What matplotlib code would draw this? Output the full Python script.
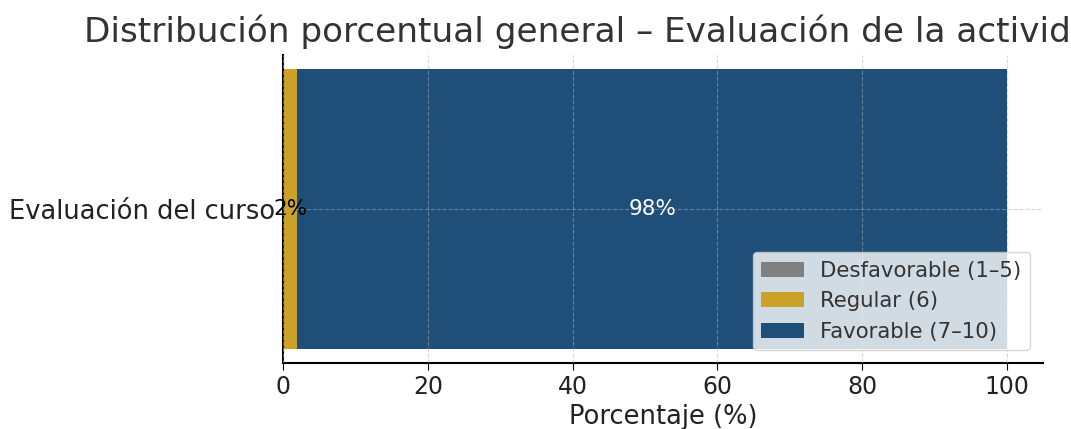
import matplotlib
matplotlib.use("Agg")
import matplotlib.pyplot as plt

categories = ["Evaluación del curso"]
series_names = ["Desfavorable (1–5)", "Regular (6)", "Favorable (7–10)"]
values = [[0], [2], [98]]
colors = ["#808080", "#C9A227", "#1F4E79"]
label_colors = ["black", "black", "white"]

fig = plt.figure(figsize=(10.71, 4.29), dpi=100)
ax = fig.add_axes([283/1071, 1-363/429, (1043-283)/1071, 308/429])

left = [0] * len(categories)
for name, vals, c, lc in zip(series_names, values, colors, label_colors):
    bars = ax.barh(categories, vals, left=left, color=c, label=name, height=0.8)
    for b, v, l in zip(bars, vals, left):
        if v > 0:
            ax.text(l + v / 2, b.get_y() + b.get_height() / 2, f"{v:.0f}%",
                    ha="center", va="center", color=lc, fontsize=15.5)
    left = [l + v for l, v in zip(left, vals)]

ax.set_xlim(0, 105)
fig.text(84/1071, 1-32/429, "Distribución porcentual general – Evaluación de la actividad",
         fontsize=24.65, color="#333333", ha="left", va="center")
ax.set_xlabel("Porcentaje (%)", fontsize=18.5, color="#222222", labelpad=4)
ax.tick_params(axis="x", labelsize=17, length=5, labelcolor="#222222")
ax.tick_params(axis="y", labelsize=18.5, length=0, pad=6, labelcolor="#222222")
ax.spines["top"].set_visible(False)
ax.spines["right"].set_visible(False)
ax.spines["left"].set_linewidth(1.5)
ax.spines["bottom"].set_linewidth(1.5)
ax.grid(True, linestyle="--", alpha=0.5, zorder=5)
ax.set_axisbelow(False)
ax.legend(loc="lower right", fontsize=15.3, borderaxespad=0.6, labelcolor="#333333")

fig.savefig("out.png", dpi=100)
